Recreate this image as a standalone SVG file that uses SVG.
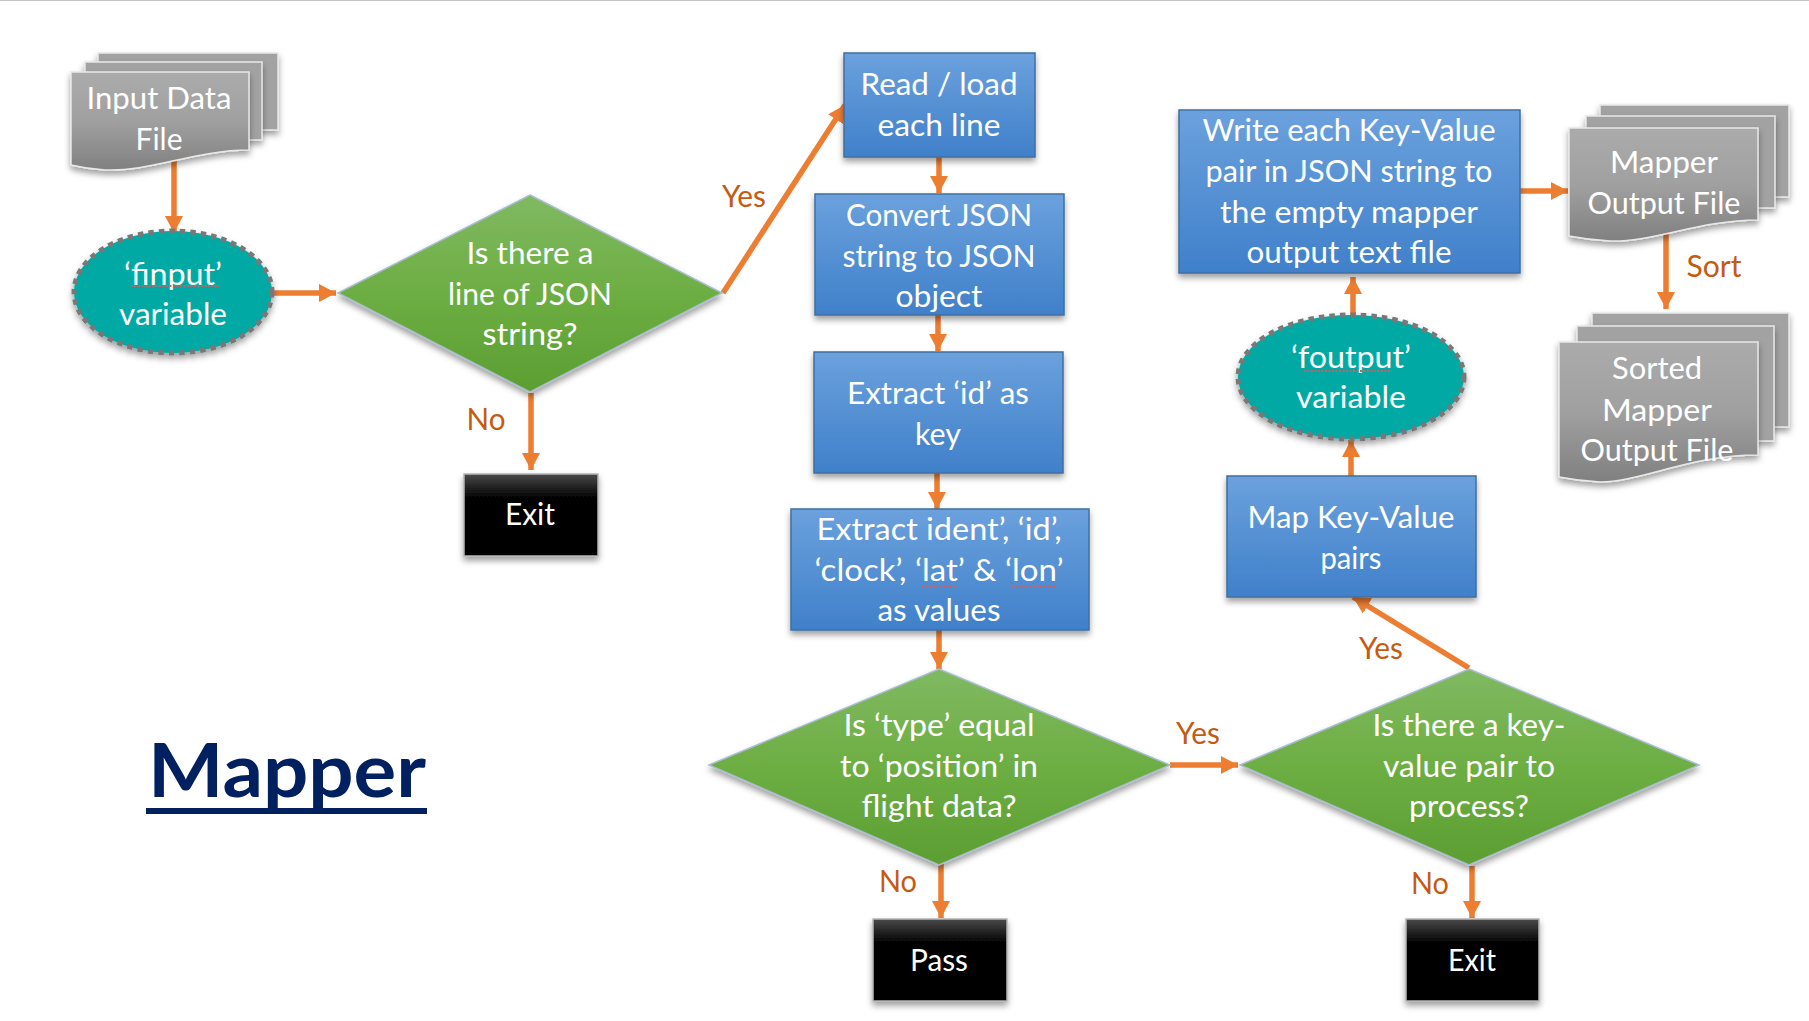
<svg xmlns="http://www.w3.org/2000/svg" width="1809" height="1021" viewBox="0 0 1809 1021">
<style>
text{font-family:Lato,"Open Sans","Liberation Sans",sans-serif;font-size:31px;fill:#fff;text-anchor:middle}
.lb{fill:#C55A11;font-size:30px}
.blue{fill:url(#gb);stroke:#3f6fa0;stroke-width:1.5;filter:url(#sh)}
.green{fill:url(#gg);stroke:#a9bcd0;stroke-width:1.5;filter:url(#sh)}
.gray{fill:url(#gy);stroke:#e8e8e8;stroke-width:1.5;filter:url(#sh)}
.back{fill:#A2A2A2;stroke:#e8e8e8;stroke-width:1.5;filter:url(#sh)}
.black{fill:url(#gk);stroke:#b5b5b5;stroke-width:1.5;filter:url(#sh)}
.teal{fill:#00A9A4;stroke:#787878;stroke-width:5;stroke-dasharray:5.5 5;filter:url(#sh)}
.sq{fill:none;stroke:#cf5f5f;stroke-width:2;stroke-dasharray:2 1.5}
.c{fill:none;stroke:#ED7D31;stroke-width:5.5;marker-end:url(#ah)}
</style>
<defs>
<linearGradient id="gb" x1="0" y1="0" x2="0" y2="1"><stop offset="0" stop-color="#6BA1DD"/><stop offset="1" stop-color="#4080CA"/></linearGradient>
<linearGradient id="gg" x1="0" y1="0" x2="0" y2="1"><stop offset="0" stop-color="#80B962"/><stop offset="0.5" stop-color="#6DAE43"/><stop offset="1" stop-color="#5C9E32"/></linearGradient>
<linearGradient id="gy" x1="0" y1="0" x2="0" y2="1"><stop offset="0" stop-color="#ABABAB"/><stop offset="0.5" stop-color="#A0A0A0"/><stop offset="1" stop-color="#808080"/></linearGradient>
<linearGradient id="gk" x1="0" y1="0" x2="0" y2="1"><stop offset="0" stop-color="#4a4a4a"/><stop offset="0.3" stop-color="#000"/><stop offset="1" stop-color="#000"/></linearGradient>
<filter id="sh" x="-10%" y="-10%" width="120%" height="130%"><feDropShadow dx="0" dy="4" stdDeviation="3" flood-color="#000" flood-opacity="0.38"/></filter>
<marker id="ah" markerUnits="userSpaceOnUse" markerWidth="20" markerHeight="20" refX="17" refY="9" orient="auto"><path d="M0 0L17 9L0 18Z" fill="#ED7D31"/></marker>
</defs>
<rect width="1809" height="1021" fill="#fff"/>
<rect width="1809" height="1" fill="#c4c4c4"/>
<g id="connectors">
<path class="c" d="M174 158V233"/>
<path class="c" d="M272 293H336"/>
<path class="c" d="M723 293L845 105"/>
<path class="c" d="M531 393V470"/>
<path class="c" d="M939 157V193"/>
<path class="c" d="M938 315V351"/>
<path class="c" d="M937 473V509"/>
<path class="c" d="M939 630V669"/>
<path class="c" d="M1170 765H1238"/>
<path class="c" d="M941 864V918"/>
<path class="c" d="M1472 866V918"/>
<path class="c" d="M1469 668L1353 597"/>
<path class="c" d="M1351 476V440"/>
<path class="c" d="M1353 316V277"/>
<path class="c" d="M1443 191H1568"/>
<path class="c" d="M1666 233V309"/>
</g>
<g id="input-file">
<rect class="back" x="98" y="53" width="180" height="77"/>
<rect class="back" x="85" y="62" width="177" height="78"/>
<path class="gray" d="M71 72H249V150C195 150 150 172 105 170Q88 169 71 165Z"/>
<text x="159" y="109" textLength="145" lengthAdjust="spacingAndGlyphs">Input Data</text><text x="159" y="150" textLength="47" lengthAdjust="spacingAndGlyphs">File</text>
</g>
<g id="finput">
<ellipse class="teal" cx="173" cy="292" rx="99" ry="61"/>
<text x="173" y="285" textLength="98" lengthAdjust="spacingAndGlyphs">‘finput’</text><text x="173" y="325" textLength="108" lengthAdjust="spacingAndGlyphs">variable</text>
<path class="sq" d="M131 286H220"/>
</g>
<g id="decision-line">
<polygon class="green" points="530,195 722,293 530,392 338,293"/>
<text x="530" y="264" textLength="127" lengthAdjust="spacingAndGlyphs">Is there a</text><text x="530" y="305" textLength="164" lengthAdjust="spacingAndGlyphs">line of JSON</text><text x="530" y="345" textLength="95" lengthAdjust="spacingAndGlyphs">string?</text>
</g>
<g id="exit-1"><rect class="black" x="464" y="474" width="134" height="82"/><text x="530" y="525" textLength="50" lengthAdjust="spacingAndGlyphs">Exit</text></g>
<g id="read"><rect class="blue" x="844" y="53" width="191" height="104"/><text x="939" y="95" textLength="157" lengthAdjust="spacingAndGlyphs">Read / load</text><text x="939" y="136" textLength="123" lengthAdjust="spacingAndGlyphs">each line</text></g>
<g id="convert"><rect class="blue" x="815" y="194" width="249" height="121"/><text x="939" y="226" textLength="186" lengthAdjust="spacingAndGlyphs">Convert JSON</text><text x="939" y="267" textLength="193" lengthAdjust="spacingAndGlyphs">string to JSON</text><text x="939" y="307" textLength="87" lengthAdjust="spacingAndGlyphs">object</text></g>
<g id="extract-id"><rect class="blue" x="814" y="352" width="249" height="121"/><text x="938" y="404" textLength="182" lengthAdjust="spacingAndGlyphs">Extract ‘id’ as</text><text x="938" y="445" textLength="46" lengthAdjust="spacingAndGlyphs">key</text></g>
<g id="extract-values"><rect class="blue" x="791" y="509" width="298" height="121"/><text x="939" y="540" textLength="245" lengthAdjust="spacingAndGlyphs">Extract ident’, ‘id’,</text><text x="939" y="581" textLength="249" lengthAdjust="spacingAndGlyphs">‘clock’, ‘lat’ &amp; ‘lon’</text><text x="939" y="621" textLength="123" lengthAdjust="spacingAndGlyphs">as values</text><path class="sq" d="M922 587H957M1012 587H1056"/></g>
<g id="decision-type"><polygon class="green" points="939,669 1170,765 939,865 709,765"/><text x="939" y="736" textLength="191" lengthAdjust="spacingAndGlyphs">Is ‘type’ equal</text><text x="939" y="777" textLength="198" lengthAdjust="spacingAndGlyphs">to ‘position’ in</text><text x="939" y="817" textLength="155" lengthAdjust="spacingAndGlyphs">flight data?</text></g>
<g id="pass"><rect class="black" x="873" y="919" width="134" height="82"/><text x="939" y="971" textLength="58" lengthAdjust="spacingAndGlyphs">Pass</text></g>
<g id="decision-pair"><polygon class="green" points="1469,669 1699,765 1469,865 1240,765"/><text x="1469" y="736" textLength="193" lengthAdjust="spacingAndGlyphs">Is there a key-</text><text x="1469" y="777" textLength="172" lengthAdjust="spacingAndGlyphs">value pair to</text><text x="1469" y="817" textLength="120" lengthAdjust="spacingAndGlyphs">process?</text></g>
<g id="exit-2"><rect class="black" x="1406" y="919" width="133" height="82"/><text x="1472" y="971" textLength="48" lengthAdjust="spacingAndGlyphs">Exit</text></g>
<g id="map"><rect class="blue" x="1227" y="476" width="249" height="121"/><text x="1351" y="528" textLength="207" lengthAdjust="spacingAndGlyphs">Map Key-Value</text><text x="1351" y="569" textLength="61" lengthAdjust="spacingAndGlyphs">pairs</text></g>
<g id="foutput"><ellipse class="teal" cx="1351" cy="377" rx="113" ry="62"/><text x="1351" y="368" textLength="120" lengthAdjust="spacingAndGlyphs">‘foutput’</text><text x="1351" y="408" textLength="110" lengthAdjust="spacingAndGlyphs">variable</text><path class="sq" d="M1304 371H1392"/></g>
<g id="write"><rect class="blue" x="1179" y="110" width="341" height="163"/><text x="1349" y="141" textLength="293" lengthAdjust="spacingAndGlyphs">Write each Key-Value</text><text x="1349" y="182" textLength="287" lengthAdjust="spacingAndGlyphs">pair in JSON string to</text><text x="1349" y="223" textLength="258" lengthAdjust="spacingAndGlyphs">the empty mapper</text><text x="1349" y="263" textLength="205" lengthAdjust="spacingAndGlyphs">output text file</text></g>
<g id="mapper-output">
<rect class="back" x="1600" y="105" width="189" height="92"/>
<rect class="back" x="1586" y="116" width="189" height="92"/>
<path class="gray" d="M1569 128H1758V220C1700 220 1650 243 1610 241Q1590 240 1569 236Z"/>
<text x="1664" y="173" textLength="108" lengthAdjust="spacingAndGlyphs">Mapper</text><text x="1664" y="214" textLength="153" lengthAdjust="spacingAndGlyphs">Output File</text>
</g>
<g id="sorted-output">
<rect class="back" x="1592" y="313" width="197" height="114"/>
<rect class="back" x="1577" y="326" width="197" height="115"/>
<path class="gray" d="M1559 342H1758V455C1690 455 1640 482 1600 482Q1580 481 1559 477Z"/>
<text x="1657" y="379" textLength="90" lengthAdjust="spacingAndGlyphs">Sorted</text><text x="1657" y="421" textLength="110" lengthAdjust="spacingAndGlyphs">Mapper</text><text x="1657" y="461" textLength="153" lengthAdjust="spacingAndGlyphs">Output File</text>
</g>
<g id="labels">
<text class="lb" x="744" y="207" textLength="44" lengthAdjust="spacingAndGlyphs">Yes</text><text class="lb" x="486" y="430" textLength="39" lengthAdjust="spacingAndGlyphs">No</text><text class="lb" x="898" y="892" textLength="38" lengthAdjust="spacingAndGlyphs">No</text><text class="lb" x="1198" y="744" textLength="44" lengthAdjust="spacingAndGlyphs">Yes</text><text class="lb" x="1381" y="659" textLength="44" lengthAdjust="spacingAndGlyphs">Yes</text><text class="lb" x="1430" y="894" textLength="38" lengthAdjust="spacingAndGlyphs">No</text><text class="lb" x="1714" y="277" textLength="55" lengthAdjust="spacingAndGlyphs">Sort</text>
</g>
<g id="title"><text x="287" y="797" textLength="278" lengthAdjust="spacingAndGlyphs" style="font-size:74px;font-weight:700;fill:#002060">Mapper</text><rect x="146" y="808" width="281" height="6" fill="#002060"/></g>
</svg>
